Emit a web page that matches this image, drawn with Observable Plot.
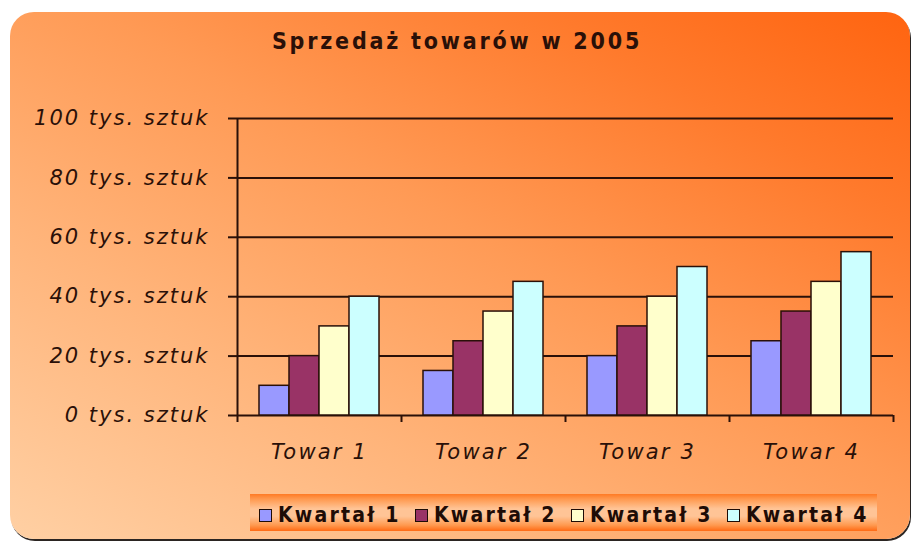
<!DOCTYPE html>
<html>
<head>
<meta charset="utf-8">
<script src="https://cdn.jsdelivr.net/npm/d3@7"></script>
<script src="https://cdn.jsdelivr.net/npm/@observablehq/plot@0.6"></script>
<style>
  html, body { margin: 0; padding: 0; background: #ffffff; }
  #wrap { position: relative; width: 914px; height: 544px; overflow: hidden; background: #fff; }
  #panel {
    position: absolute; left: 10px; top: 12px; width: 900px; height: 527px;
    border-radius: 24px;
    background: linear-gradient(to top right, #ffd0a4 0%, #ffb47a 30%, #ff9a55 55%, #ff7a2c 80%, #ff6410 100%);
    box-shadow: 1px 2px 0 #2b2522;
  }
  #title {
    position: absolute; left: 0; width: 914px; top: 30px; text-align: center;
    font-family: "DejaVu Sans Condensed", "DejaVu Sans", sans-serif; font-weight: bold;
    font-size: 23px; line-height: 23px; letter-spacing: 2.8px; color: #2a1008;
  }
  #legend {
    position: absolute; left: 250px; top: 494px; width: 627px; height: 37px;
    background: linear-gradient(to bottom, #ff7a24 0%, #ff9a50 14%, #ffc496 40%, #ffc496 60%, #ff9a50 84%, #ff6a14 100%);
    display: flex; align-items: center; padding-left: 9px; padding-top: 6px; box-sizing: border-box;
    font-family: "DejaVu Sans Condensed", "DejaVu Sans", sans-serif; font-weight: bold;
    font-size: 21px; line-height: 21px; letter-spacing: 2.2px; color: #1e0c06;
  }
  .item { display: flex; align-items: center; width: 156px; flex: none; white-space: nowrap; }
  .sw { width: 11px; height: 11px; border: 1.5px solid #1e0c06; margin-right: 6px; flex: none; }
  #chart { position: absolute; left: 0; top: 0; }
  #chart g[aria-label="y-axis tick label"] text { letter-spacing: 2px; }
  #chart g[aria-label="fx-axis tick label"] text { letter-spacing: 2.2px; }
</style>
</head>
<body>
<div id="wrap">
  <div id="panel"></div>
  <div id="title">Sprzedaż towarów w 2005</div>
  <div id="chart"></div>
  <div id="legend"></div>
</div>
<script>
const products = ["Towar 1", "Towar 2", "Towar 3", "Towar 4"];
const quarters = ["Kwartał 1", "Kwartał 2", "Kwartał 3", "Kwartał 4"];
const kwartal1 = [10, 15, 20, 25];
const kwartal2 = [20, 25, 30, 35];
const kwartal3 = [30, 35, 40, 45];
const kwartal4 = [40, 45, 50, 55];
const yTicks = [0, 20, 40, 60, 80, 100];
const unitLabel = "tys. sztuk";
const colors = ["#9999ff", "#993366", "#ffffcc", "#ccffff"];

const series = [kwartal1, kwartal2, kwartal3, kwartal4];
const rows = [];
products.forEach((p, i) => quarters.forEach((q, j) => rows.push({towar: p, kwartal: q, value: series[j][i]})));

const W = 914, H = 544, mL = 237, mR = 21, mT = 118, mB = 129;
const step = (W - mL - mR) / products.length;
const padOuter = 0.733;
const barStep = step / (quarters.length + 2 * padOuter);
const ink = "#2a1008";

const plot = Plot.plot({
  width: W, height: H,
  marginLeft: mL, marginRight: mR, marginTop: mT, marginBottom: mB,
  style: {background: "transparent", overflow: "visible", fontFamily: "'DejaVu Sans', sans-serif", color: ink},
  fx: {domain: products, padding: 0, label: null},
  x: {domain: quarters, paddingInner: 0, paddingOuter: padOuter, axis: null},
  y: {domain: [0, 100], axis: null},
  color: {domain: quarters, range: colors},
  marks: [
    Plot.ruleY(yTicks, {stroke: ink, strokeWidth: 2}),
    Plot.barY(rows, {fx: "towar", x: "kwartal", y: "value", fill: "kwartal", stroke: ink, strokeWidth: 1.5}),
    Plot.ruleX(products.slice(0, 1), {fx: d => d, x: () => quarters[0], y1: 0, y2: 100, dx: -(padOuter * barStep + barStep / 2), stroke: ink, strokeWidth: 2}),
    Plot.axisY({ticks: yTicks, tickSize: 9, tickPadding: 19, tickFormat: d => `${d} ${unitLabel}`,
      fontSize: 21, fontStyle: "italic", stroke: ink, strokeWidth: 2, fill: ink, label: null}),
    Plot.axisFx({anchor: "bottom", tickSize: 0, tickPadding: 29, fontSize: 21, fontStyle: "italic", fill: ink, label: null}),
    Plot.axisFx({anchor: "bottom", tickSize: 7, dx: -step / 2, text: null, stroke: ink, strokeWidth: 2, label: null}),
    Plot.axisFx({anchor: "bottom", ticks: products.slice(-1), tickSize: 7, dx: step / 2, text: null, stroke: ink, strokeWidth: 2, label: null})
  ]
});
document.getElementById("chart").appendChild(plot);

const legend = document.getElementById("legend");
quarters.forEach((q, i) => {
  const it = document.createElement("div");
  it.className = "item";
  const sw = document.createElement("span");
  sw.className = "sw";
  sw.style.background = colors[i];
  const tx = document.createElement("span");
  tx.textContent = q;
  it.appendChild(sw);
  it.appendChild(tx);
  legend.appendChild(it);
});
</script>
</body>
</html>
